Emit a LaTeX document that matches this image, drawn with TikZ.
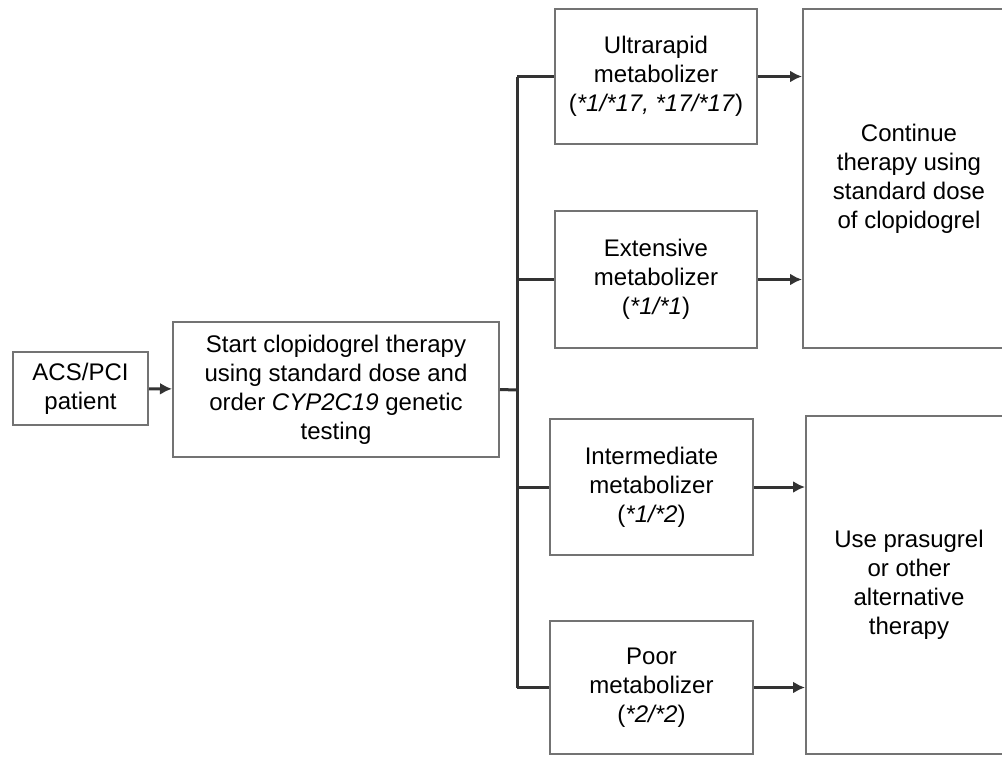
\documentclass[tikz,border=0pt]{standalone}
\usepackage{fontspec}
\setmainfont{Liberation Sans}
\usetikzlibrary{arrows.meta,positioning}

\begin{document}
\begin{tikzpicture}[
  x=1pt, y=-1pt,
  font=\fontsize{24}{29}\selectfont,
  >={Latex[length=12pt,width=12pt]},
  box/.style={draw=black!55,line width=2pt,align=center,inner sep=0pt},
  wire/.style={draw=black!80,line width=3pt},
  flow/.style={wire,->}
]
\useasboundingbox (0,0) rectangle (1002,756);

\node[box,minimum width=135pt,minimum height=73pt] (acs) at (80.5,388.5) {ACS/PCI\\patient};
\node[box,minimum width=326pt,minimum height=135pt] (start) at (336,389.5)
  {Start clopidogrel therapy\\using standard dose and\\order \textit{CYP2C19} genetic\\testing};

\node[box,minimum width=202pt,minimum height=135pt] (ultra) at (656,76.5)
  {Ultrarapid\\metabolizer\\(\textit{*1/*17, *17/*17})};
\node[box,minimum width=202pt,minimum height=137pt] (ext) at (656,279.5)
  {Extensive\\metabolizer\\(\textit{*1/*1})};
\node[box,minimum width=203pt,minimum height=136pt] (inter) at (651.5,487)
  {Intermediate\\metabolizer\\(\textit{*1/*2})};
\node[box,minimum width=203pt,minimum height=133pt] (poor) at (651.5,687.5)
  {Poor\\metabolizer\\(\textit{*2/*2})};

\node[box,minimum width=212pt,minimum height=339pt] (cont) at (909,178.5)
  {Continue\\therapy using\\standard dose\\of clopidogrel};
\node[box,minimum width=206pt,minimum height=338pt] (alt) at (909,585)
  {Use prasugrel\\or other\\alternative\\therapy};

% branching bus
\coordinate (bus) at (517,390);
\draw[flow] (acs) -- (start);
\draw[wire] (start.east) -- (bus);
\draw[wire] (bus |- ultra.west) -- (bus |- poor.west);
\foreach \m in {ultra,ext,inter,poor}
  \draw[wire] (bus |- \m.west) -- (\m.west);

\draw[flow] (ultra.east) -- (ultra.east -| cont.west);
\draw[flow] (ext.east) -- (ext.east -| cont.west);
\draw[flow] (inter.east) -- (inter.east -| alt.west);
\draw[flow] (poor.east) -- (poor.east -| alt.west);
\end{tikzpicture}
\end{document}
